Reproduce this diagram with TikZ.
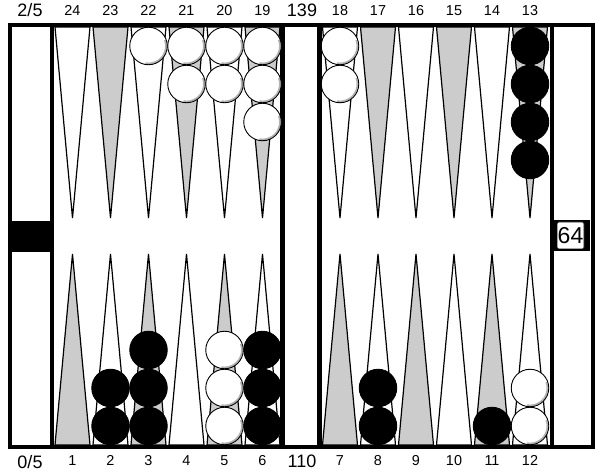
\documentclass[tikz,border=0pt]{standalone}
\usepackage{fontspec}
\setmainfont{Liberation Sans}
\definecolor{ptgray}{RGB}{204,204,204}
\begin{document}
\begin{tikzpicture}[x=1pt,y=-1pt,
  wpt/.style={fill=white,draw=black,line width=1.2pt,line join=miter},
  gpt/.style={fill=ptgray,draw=black,line width=1.2pt,line join=miter},
  frame/.style={line width=4pt},
  divider/.style={line width=4.5pt},
  wchk/.style={circle,draw=black,fill=white,line width=0.9pt,minimum size=37.5pt,inner sep=0pt,
    path picture={\draw[gray!60,line width=1.6pt] (path picture bounding box.center) ++(-100:17.4pt) arc[start angle=-100,end angle=20,radius=17.4pt];}},
  bchk/.style={circle,draw=black,fill=black,line width=0.9pt,minimum size=37.5pt,inner sep=0pt},
  num/.style={font=\fontsize{14.4}{16}\selectfont,inner sep=0pt,text depth=0pt},
  big/.style={font=\fontsize{18}{20}\selectfont,inner sep=0pt,text depth=0pt}]
\useasboundingbox (0,0) rectangle (603,473);
\fill[white] (0,0) rectangle (603,473);
% points
\foreach \h/\L in {0/53.5,1/321} {
  \foreach \c in {0,...,5} {
    \pgfmathsetmacro\xa{\L+38*\c+1.5}
    \pgfmathsetmacro\xb{\L+38*\c+36.5}
    \pgfmathsetmacro\xm{\L+38*\c+19}
    \pgfmathtruncatemacro\odd{mod(\c,2)}
    \pgfmathtruncatemacro\tn{\h==0 ? 24-\c : 18-\c}
    \pgfmathtruncatemacro\bn{\h==0 ? 1+\c : 7+\c}
    \ifnum\odd=1
      \path[gpt] (\xa,27) -- (\xm,218) -- (\xb,27) -- cycle;
      \path[wpt] (\xa,445) -- (\xm,254) -- (\xb,445) -- cycle;
    \else
      \path[wpt] (\xa,27) -- (\xm,218) -- (\xb,27) -- cycle;
      \path[gpt] (\xa,445) -- (\xm,254) -- (\xb,445) -- cycle;
    \fi
    \node[num] (t\tn) at (\xm,10.5) {\tn};
    \node[num] (b\bn) at (\xm,460.5) {\bn};
  }
}
% frame
\draw[frame] (10,25) rectangle (592.5,447);
\draw[divider] (52,25) -- (52,447);
\draw[divider] (282.5,25) -- (282.5,447);
\draw[divider] (319.5,25) -- (319.5,447);
\draw[divider] (552,25) -- (552,447);
% trays
\fill (12,221) rectangle (51,252);
\fill (553,220) rectangle (590,251);
\node[draw=black,fill=white,line width=0.6pt,rounded corners=1.5pt,minimum width=27pt,minimum height=27pt,inner sep=0pt,font=\fontsize{23}{25}\selectfont] (cube) at (570.5,235.5) {64};
% labels
\node[big] (offTop) at (30,9.5) {2/5};
\node[big] (offBot) at (30,461.5) {0/5};
\node[big] (pipTop) at (302,10) {139};
\node[big] (pipBot) at (302,461.5) {110};
% top checkers
\foreach \p/\x/\n/\s in {22/148.5/1/wchk,21/186.5/2/wchk,20/224.5/2/wchk,19/262.5/3/wchk,18/340/2/wchk,13/530/4/bchk} {
  \foreach \k in {1,...,\n} {
    \node[\s] (c\p-\k) at (\x,{46+38*(\k-1)}) {};
  }
}
% bottom checkers
\foreach \p/\x/\n/\s in {2/110.5/2/bchk,3/148.5/3/bchk,5/224.5/3/wchk,6/262.5/3/bchk,8/378/2/bchk,11/492/1/bchk,12/530/2/wchk} {
  \foreach \k in {1,...,\n} {
    \node[\s] (c\p-\k) at (\x,{426-38*(\k-1)}) {};
  }
}
\end{tikzpicture}
\end{document}
